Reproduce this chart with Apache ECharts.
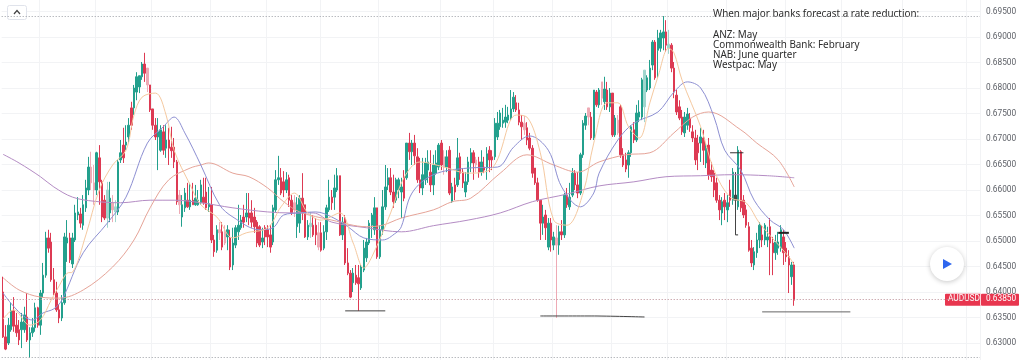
<!DOCTYPE html>
<html><head><meta charset="utf-8">
<style>html,body{margin:0;padding:0;background:#fff;overflow:hidden}#c{width:1024px;height:360px;filter:blur(0.4px)}</style>
<script src="https://cdn.jsdelivr.net/npm/echarts@6/dist/echarts.min.js"></script>
</head><body><div id="c"></div>
<script>
// Prices are in units of 0.0001
const opens = [
6400,6312,6300,6326,6363,6335,6326,6326,6326,6351,
6306,6320,6330,6369,6335,6398,6433,6506,6498,6424,
6398,6365,6349,6379,6496,6506,6455,6502,6551,6553,
6531,6565,6600,6645,6614,6600,6663,6616,6580,6545,
6555,6575,6557,6557,6659,6688,6688,6704,6761,6761,
6792,6802,6822,6847,6839,6806,6759,6727,6704,6678,
6714,6682,6698,6684,6684,6655,6590,6547,6565,6580,
6567,6580,6571,6571,6575,6586,6596,6567,6571,6502,
6482,6522,6518,6518,6508,6506,6453,6492,6518,6526,
6547,6547,6555,6555,6547,6537,6528,6498,6526,6522,
6512,6498,6561,6620,6624,6616,6600,6624,6580,6575,
6528,6535,6584,6571,6508,6528,6531,6531,6516,6516,
6486,6518,6561,6586,6586,6600,6628,6512,6545,6457,
6437,6418,6433,6428,6408,6443,6467,6496,6531,6522,
6565,6469,6522,6567,6610,6624,6596,6580,6600,6596,
6626,6624,6692,6675,6692,6665,6620,6604,6620,6639,
6635,6610,6633,6645,6692,6665,6645,6678,6577,6610,
6610,6665,6635,6596,6616,6653,6673,6659,6655,6635,
6645,6643,6678,6665,6665,6704,6724,6731,6733,6737,
6741,6759,6771,6757,6733,6731,6722,6702,6682,6643,
6614,6580,6535,6551,6488,6535,6492,6506,6492,6518,
6512,6590,6567,6590,6633,6610,6594,6669,6727,6761,
6743,6702,6792,6767,6812,6773,6796,6763,6790,6708,
6737,6763,6669,6659,6649,6673,6718,6698,6743,6743,
6763,6796,6800,6845,6890,6874,6878,6898,6910,6878,
6884,6839,6786,6763,6743,6712,6727,6741,6714,6702,
6692,6692,6702,6653,6688,6639,6633,6614,6580,6555,
6580,6561,6600,6580,6580,6567,6675,6580,6561,6528,
6486,6453,6477,6502,6512,6502,6502,6528,6496,6477,
6486,6486,6508,6486,6469,6430,6453];
const closes = [
6312,6288,6335,6363,6333,6320,6306,6341,6355,6306,
6320,6330,6369,6335,6398,6433,6506,6486,6424,6398,
6365,6349,6379,6508,6506,6463,6506,6555,6557,6535,
6571,6604,6645,6614,6600,6673,6616,6547,6545,6600,
6584,6561,6567,6655,6673,6663,6694,6727,6727,6800,
6822,6824,6847,6829,6806,6757,6727,6704,6714,6718,
6678,6698,6682,6677,6655,6577,6571,6571,6594,6567,
6580,6571,6584,6580,6610,6575,6565,6573,6502,6479,
6522,6516,6488,6496,6522,6449,6496,6526,6531,6541,
6537,6555,6545,6537,6528,6496,6492,6506,6508,6508,
6488,6565,6620,6624,6594,6600,6620,6580,6555,6561,
6571,6584,6555,6508,6531,6535,6512,6512,6488,6482,
6518,6565,6586,6575,6604,6628,6512,6537,6457,6437,
6390,6437,6418,6416,6449,6486,6498,6535,6551,6565,
6469,6522,6567,6606,6624,6596,6577,6620,6620,6606,
6584,6692,6675,6692,6667,6620,6604,6630,6653,6655,
6610,6649,6653,6688,6649,6645,6665,6594,6606,6596,
6663,6633,6614,6616,6655,6673,6653,6649,6635,6655,
6639,6671,6659,6659,6731,6731,6751,6737,6743,6747,
6759,6782,6757,6733,6724,6718,6698,6682,6633,6614,
6580,6535,6547,6526,6535,6502,6508,6492,6518,6512,
6590,6571,6586,6633,6610,6594,6669,6731,6745,6743,
6702,6796,6767,6796,6780,6798,6763,6790,6708,6741,
6712,6669,6649,6641,6673,6724,6698,6751,6753,6816,
6835,6820,6839,6890,6820,6898,6908,6910,6884,6886,
6839,6792,6753,6741,6714,6743,6749,6722,6702,6659,
6673,6704,6678,6682,6630,6626,6600,6580,6561,6577,
6567,6575,6580,6635,6590,6678,6565,6551,6531,6482,
6457,6479,6502,6531,6502,6531,6508,6496,6477,6498,
6498,6522,6477,6469,6453,6453,6384];
const lows = [
6310,6286,6296,6322,6322,6312,6296,6290,6320,6302,
6271,6312,6322,6330,6316,6390,6428,6477,6420,6394,
6361,6339,6343,6375,6459,6457,6447,6498,6541,6526,
6522,6557,6590,6600,6571,6590,6571,6537,6541,6526,
6537,6537,6537,6551,6653,6653,6678,6692,6718,6747,
6776,6790,6816,6812,6792,6753,6718,6698,6639,6675,
6669,6663,6649,6663,6643,6571,6553,6528,6557,6565,
6561,6571,6569,6569,6571,6571,6561,6557,6496,6469,
6477,6502,6482,6492,6482,6443,6443,6486,6502,6522,
6526,6537,6531,6526,6516,6488,6488,6486,6492,6488,
6477,6492,6557,6610,6590,6586,6594,6567,6551,6547,
6506,6516,6541,6506,6502,6506,6508,6492,6482,6479,
6482,6502,6557,6561,6561,6596,6510,6502,6453,6433,
6388,6400,6414,6363,6404,6439,6459,6492,6506,6512,
6465,6465,6512,6561,6600,6590,6565,6575,6584,6545,
6578,6620,6659,6649,6649,6614,6594,6590,6610,6614,
6596,6590,6630,6639,6639,6630,6635,6590,6575,6580,
6606,6620,6604,6586,6610,6635,6620,6635,6624,6628,
6633,6620,6635,6639,6659,6698,6718,6722,6722,6731,
6737,6753,6753,6727,6698,6708,6688,6678,6624,6610,
6577,6502,6512,6502,6482,6479,6482,6349,6473,6502,
6506,6565,6561,6586,6600,6584,6590,6663,6718,6727,
6698,6698,6763,6761,6767,6757,6757,6753,6704,6704,
6708,6663,6645,6635,6624,6665,6692,6694,6733,6737,
6733,6792,6796,6835,6816,6820,6871,6874,6871,6867,
6831,6780,6747,6737,6708,6704,6718,6714,6694,6649,
6639,6655,6649,6643,6620,6616,6586,6575,6541,6531,
6541,6537,6567,6571,6512,6561,6557,6545,6526,6479,
6449,6443,6467,6486,6488,6492,6488,6433,6433,6463,
6473,6479,6453,6459,6398,6414,6373];
const highs = [
6430,6335,6349,6379,6390,6359,6345,6359,6371,6398,
6331,6349,6379,6371,6404,6457,6518,6522,6516,6447,
6420,6375,6394,6516,6541,6516,6516,6571,6586,6565,
6590,6620,6665,6675,6649,6675,6688,6620,6590,6616,
6616,6590,6580,6659,6698,6722,6727,6741,6773,6806,
6831,6824,6851,6869,6839,6806,6759,6741,6741,6727,
6727,6727,6722,6724,6702,6659,6600,6590,6604,6614,
6614,6614,6610,6600,6620,6624,6624,6606,6606,6512,
6531,6537,6537,6531,6531,6522,6526,6531,6571,6551,
6571,6594,6594,6580,6565,6541,6531,6526,6531,6531,
6531,6571,6639,6667,6643,6637,6635,6630,6590,6590,
6586,6590,6633,6571,6541,6557,6551,6545,6537,6537,
6531,6571,6620,6600,6630,6643,6628,6547,6551,6486,
6443,6447,6453,6453,6453,6502,6506,6541,6555,6586,
6565,6531,6600,6649,6643,6643,6630,6624,6624,6624,
6639,6692,6712,6698,6708,6682,6663,6663,6663,6678,
6678,6669,6678,6692,6698,6678,6678,6686,6614,6624,
6702,6673,6643,6635,6665,6682,6678,6665,6665,6678,
6665,6684,6686,6678,6741,6753,6757,6761,6767,6763,
6796,6792,6786,6771,6747,6745,6733,6712,6688,6643,
6624,6580,6571,6561,6545,6545,6518,6531,6530,6541,
6594,6604,6614,6643,6639,6635,6673,6737,6751,6761,
6753,6796,6796,6800,6812,6822,6812,6800,6790,6747,
6747,6767,6682,6673,6678,6727,6733,6767,6776,6820,
6835,6825,6855,6894,6894,6914,6914,6941,6933,6914,
6888,6851,6796,6776,6757,6753,6761,6751,6727,6718,
6708,6722,6718,6692,6702,6655,6639,6624,6590,6586,
6594,6590,6620,6643,6635,6686,6678,6590,6571,6537,
6502,6488,6516,6537,6531,6535,6528,6545,6508,6512,
6518,6531,6522,6498,6482,6459,6459];

// Candles that appear washed out in the picture, and the one with a dark wick
const paleCandles = [33,34,39,41,42,54,66,81,83,109,115,118,165,177,195,207,219,224,230,240,249];
const darkCandles = [274];

// Moving averages read at sampled candles: [candle index, price]
const maShort = [[0,6347],[4,6365],[10,6335],[14,6345],[18,6384],[21,6412],[24,6437],[26,6439],[31,6512],[36,6600],[41,6649],[46,6678],[49,6747],[52,6782],[57,6790],[61,6747],[64,6678],[70,6610],[74,6571],[80,6547],[86,6506],[91,6516],[99,6526],[104,6567],[109,6594],[114,6555],[119,6541],[126,6555],[131,6496],[135,6447],[138,6469],[145,6555],[150,6624],[156,6655],[165,6645],[174,6633],[183,6643],[192,6747],[196,6743],[201,6673],[206,6541],[211,6531],[217,6594],[221,6692],[226,6771],[230,6771],[234,6724],[238,6702],[242,6771],[245,6822],[249,6878],[251,6869],[254,6816],[261,6724],[266,6639],[272,6586],[278,6575],[283,6535],[294,6469],[296,6453]];
const maMid = [[0,6398],[11,6345],[15,6359],[19,6367],[22,6384],[30,6477],[39,6535],[46,6586],[54,6692],[60,6724],[64,6743],[68,6712],[74,6649],[81,6571],[86,6547],[96,6522],[101,6526],[105,6551],[111,6555],[117,6557],[123,6547],[129,6528],[135,6506],[142,6502],[147,6516],[149,6528],[153,6594],[161,6630],[174,6643],[185,6645],[191,6684],[197,6706],[204,6678],[209,6606],[216,6567],[221,6594],[223,6633],[230,6698],[236,6731],[245,6753],[251,6792],[256,6812],[261,6800],[266,6743],[270,6678],[276,6639],[281,6580],[287,6541],[292,6522],[296,6486]];
const maLong = [[0,6428],[6,6404],[14,6390],[21,6388],[30,6404],[41,6449],[49,6502],[55,6565],[62,6620],[70,6643],[74,6649],[77,6653],[86,6633],[92,6626],[99,6604],[105,6577],[111,6557],[123,6541],[136,6528],[142,6531],[149,6545],[161,6561],[168,6577],[175,6584],[186,6633],[196,6669],[206,6649],[215,6635],[223,6655],[233,6669],[242,6673],[251,6712],[258,6743],[264,6753],[276,6718],[282,6692],[290,6659],[296,6606]];
const maSlow = [[0,6670],[6,6653],[14,6626],[19,6606],[26,6586],[34,6578],[44,6575],[55,6580],[64,6580],[74,6575],[86,6565],[99,6557],[108,6555],[116,6555],[123,6537],[136,6526],[149,6518],[161,6530],[174,6541],[186,6555],[198,6577],[211,6592],[223,6608],[236,6616],[248,6626],[261,6628],[273,6630],[286,6628],[296,6624]];

// Hand-drawn annotation strokes on the chart: [candle index, price]
const strokeSupportA = [[128,6363],[143,6363]];
const strokeSupportB = [[201,6353],[220,6353],[240,6351]];
const strokeSupportC = [[284,6361],[317,6361]];
const strokeTopA = [[272,6673],[277,6673]];
const strokeTopB = [[274,6512],[275,6512]];
const strokeTopC = [[290,6516],[294,6516]];

const tickLabels = [0.63,0.635,0.64,0.645,0.65,0.655,0.66,0.665,0.67,0.675,0.68,0.685,0.69,0.695];
const lastPrice = 0.6385;
const topDotted = 0.6940;
const bottomDotted = 0.6272;
const gridColumns = [14,35,56,78,99,119,141,164,184,206,228,249,271,293,314,337,361];
const noteLines = ['When major banks forecast a rate reduction:','','ANZ: May','Commonwealth Bank: February','NAB: June quarter','Westpac: May'];
const slotCount = 366;
const categories = Array.from({length: slotCount}, (_, i) => String(i));

const p = v => v / 10000;
const scaled = a => a.map(d => [d[0], p(d[1])]);
const UP = '#23a08d', DOWN = '#dd3a53';
const solid = c => ({color:c, color0:c, borderColor:c, borderColor0:c});
const candles = opens.map((o, i) => {
  const value = [p(o), p(closes[i]), p(lows[i]), p(highs[i])];
  if (darkCandles.includes(i)) return {value, itemStyle:solid('#444')};
  if (paleCandles.includes(i)) return {value, itemStyle:solid(closes[i] >= o ? '#9fd6cd' : '#eeaab5')};
  return value;
});
const FONT = 'Roboto, sans-serif';

function lineSeries(data, color, width, smooth) {
  return {type:'line', data:scaled(data), symbol:'none', smooth:smooth, silent:true, z:3,
    lineStyle:{color:color, width:width}, itemStyle:{color:color}, animation:false};
}
const chart = echarts.init(document.getElementById('c'), null, {renderer:'canvas'});
chart.setOption({
  animation:false, backgroundColor:'#ffffff',
  grid:{left:1.7, right:44, top:-14, height:382.5, containLabel:false, outerBoundsMode:'none'},
  xAxis:{type:'category', data:categories, boundaryGap:true, axisLine:{show:false}, axisTick:{show:false}, axisLabel:{show:false},
    splitLine:{show:true, interval:(i)=>gridColumns.includes(i), lineStyle:{color:'#f2f3f5', width:1}}},
  yAxis:{type:'value', position:'right', min:0.625, max:0.70, interval:0.005, scale:true,
    axisLine:{show:false}, axisTick:{show:false},
    axisLabel:{customValues:tickLabels, formatter:v=>v.toFixed(5), color:'#5c5f66', fontFamily:FONT, fontSize:8.3, margin:6, padding:[2,0,0,0]},
    splitLine:{show:true, lineStyle:{color:'#f2f3f5', width:1}}},
  series:[
    {type:'candlestick', data:candles, barWidth:2, clip:false, z:2,
     itemStyle:{color:UP, color0:DOWN, borderColor:UP, borderColor0:DOWN, borderWidth:1},
     markLine:{silent:true, symbol:'none', animation:false, precision:5, label:{show:false},
       data:[
         {yAxis:topDotted, lineStyle:{color:'#9a9da3', type:[1,2], width:1}},
         {yAxis:bottomDotted, lineStyle:{color:'#9a9da3', type:[1,2], width:1}},
         {yAxis:lastPrice, lineStyle:{color:'#b98a92', type:[1,2], width:1}}
       ]}},
    lineSeries(maSlow,'#b48cc4',1,0.35),
    lineSeries(maLong,'#e6a498',1,0.35),
    lineSeries(maMid,'#8d8fd2',1,0.35),
    lineSeries(maShort,'#f5c9a0',1,0.35),
    lineSeries(strokeSupportA,'#444444',1,false),
    lineSeries(strokeSupportB,'#444444',1,0.3),
    lineSeries(strokeSupportC,'#666666',1,false),
    lineSeries(strokeTopA,'#333333',1,false),
    lineSeries(strokeTopB,'#333333',1,false),
    lineSeries(strokeTopC,'#222222',2,false)
  ]
});
const py = chart.convertToPixel({yAxisIndex:0}, lastPrice);
const noteTops = [9,0,30,40,50,60];
const noteEls = noteLines.map((t, i) => ({type:'text', left:713, top:noteTops[i], silent:true,
  style:{text:t, fill:'#2b2b2b', font:'9.9px "Noto Sans", sans-serif'}}));
chart.setOption({graphic:[
  ...noteEls,
  {type:'rect', shape:{x:7.5,y:5.5,width:19,height:14,r:2}, style:{fill:'#fff', stroke:'#e0e3eb'}},
  {type:'polyline', shape:{points:[[14,14],[17,10.5],[20,14]]}, style:{stroke:'#444', lineWidth:1.2, fill:null}},
  {type:'circle', shape:{cx:947,cy:264,r:17}, style:{fill:'#fff', shadowBlur:5, shadowColor:'rgba(0,0,0,.22)', shadowOffsetY:1}},
  {type:'polygon', shape:{points:[[943,259],[943,269],[952,264]]}, style:{fill:'#2f66ee'}},
  {type:'rect', shape:{x:945,y:py-6,width:36,height:12,r:1}, style:{fill:'#e8364f'}},
  {type:'rect', shape:{x:981,y:py-6,width:38,height:12,r:1}, style:{fill:'#e8364f'}},
  {type:'line', shape:{x1:980.5,y1:py-6,x2:980.5,y2:py+6}, style:{stroke:'#ffd0d6'}},
  {type:'text', left:948, top:py-4.5, style:{text:'AUDUSD', fill:'#fff', font:'8.3px Roboto, sans-serif'}},
  {type:'text', left:986, top:py-4.5, style:{text:lastPrice.toFixed(5), fill:'#fff', font:'8.3px Roboto, sans-serif'}}
]});
</script></body></html>
